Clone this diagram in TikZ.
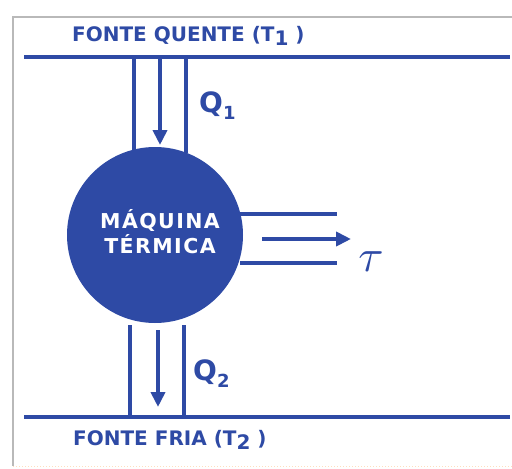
\documentclass[tikz,border=0pt]{standalone}
\usepackage{fontspec}
\usepackage{graphicx}
\setmainfont{DejaVu Sans}
\usetikzlibrary{arrows.meta}
\definecolor{mblue}{RGB}{46,74,165}
\begin{document}
\begin{tikzpicture}[x=1pt,y=-1pt,
  bl/.style={draw=mblue,line width=3.6pt},
  flow/.style={draw=mblue,line width=4pt,-{Triangle[length=15pt,width=14pt]}},
  lbl/.style={text=mblue,font=\bfseries\fontsize{20}{22}\selectfont,inner sep=0pt},
  qlbl/.style={text=mblue,font=\bfseries\fontsize{28}{30}\selectfont,inner sep=0pt}]
\useasboundingbox (0,0) rectangle (512,469);
\draw[gray!55,line width=1.2pt] (514,17) -- (13,17) -- (13,466);
\draw[orange!25,line width=1pt,dotted] (13,466) -- (514,466);
% reservoirs
\coordinate (hl) at (24,57); \coordinate (hr) at (510,57);
\coordinate (cl) at (24,417); \coordinate (cr) at (510,417);
\draw[bl] (hl) -- (hr);
\draw[bl] (cl) -- (cr);
\node[lbl,anchor=west] (hot) at (72,36) {FONTE QUENTE (T\raisebox{-0.35ex}{1} )};
\node[lbl,anchor=west] (cold) at (73,440) {FONTE FRIA (T\raisebox{-0.35ex}{2} )};
% engine
\node[circle,fill=mblue,minimum size=176pt,inner sep=0pt] (m) at (155,235) {};
\node[text=white,font=\bfseries\fontsize{20.5}{25}\selectfont\addfontfeature{LetterSpace=7},align=center] (mt) at (160,232) {MÁQUINA\\TÉRMICA};
% top channel
\coordinate (t1a) at (134,57); \coordinate (t1b) at (134,150);
\coordinate (t2a) at (186,57); \coordinate (t2b) at (186,153);
\draw[bl] (t1a) -- (t1b);
\draw[bl] (t2a) -- (t2b);
\coordinate (q1s) at (160,57); \coordinate (q1e) at (160,145);
\draw[flow] (q1s) -- (q1e);
\node[qlbl,anchor=west] (q1) at (199,106) {Q\raisebox{-0.45ex}{\fontsize{18}{20}\selectfont 1}};
% bottom channel
\coordinate (b1a) at (130,325); \coordinate (b1b) at (130,417);
\coordinate (b2a) at (184,325); \coordinate (b2b) at (184,417);
\draw[bl] (b1a) -- (b1b);
\draw[bl] (b2a) -- (b2b);
\coordinate (q2s) at (158,330); \coordinate (q2e) at (158,407);
\draw[flow] (q2s) -- (q2e);
\node[qlbl,anchor=west] (q2) at (193,374) {Q\raisebox{-0.45ex}{\fontsize{18}{20}\selectfont 2}};
% work output
\coordinate (w1a) at (240,214); \coordinate (w1b) at (337,214);
\coordinate (w2a) at (240,263); \coordinate (w2b) at (337,263);
\draw[bl] (w1a) -- (w1b);
\draw[bl] (w2a) -- (w2b);
\coordinate (ws) at (262,239); \coordinate (we) at (351,239);
\draw[flow] (ws) -- (we);
\node[text=mblue,inner sep=0pt] (tau) at (371,262) {\scalebox{4.6}{$\tau$}};
\end{tikzpicture}
\end{document}
